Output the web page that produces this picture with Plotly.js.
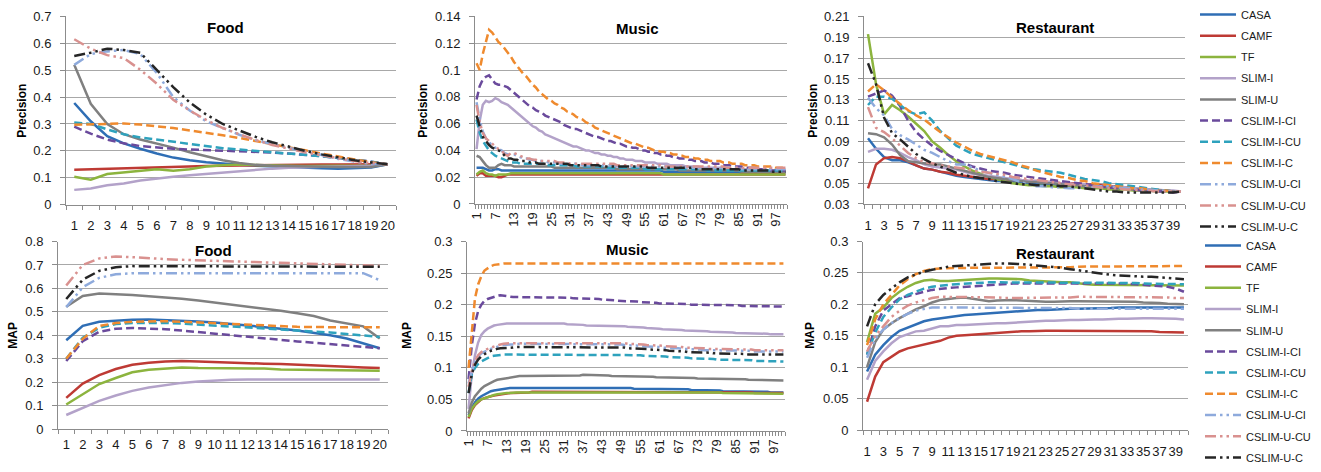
<!DOCTYPE html>
<html><head><meta charset="utf-8">
<script src="https://cdn.plot.ly/plotly-3.0.1.min.js"></script>
<style>html,body{margin:0;padding:0;background:#fff}#chart{width:1321px;height:472px}</style>
</head><body><div id="chart"></div>
<script>
const methods = ['CASA','CAMF','TF','SLIM-I','SLIM-U','CSLIM-I-CI','CSLIM-I-CU','CSLIM-I-C','CSLIM-U-CI','CSLIM-U-CU','CSLIM-U-C'];

// categories
const foodX = [1,2,3,4,5,6,7,8,9,10,11,12,13,14,15,16,17,18,19,20];
const restX = [1,2,3,4,5,6,7,8,9,10,11,12,13,14,15,16,17,18,19,20,21,22,23,24,25,26,27,28,29,30,31,32,33,34,35,36,37,38,39,40];
const musicX = [1,2,3,4,5,6,7,8,9,10,11,12,13,14,15,16,17,18,19,20,21,22,23,24,25,26,27,28,29,30,
31,32,33,34,35,36,37,38,39,40,41,42,43,44,45,46,47,48,49,50,51,52,53,54,55,56,57,58,59,60,
61,62,63,64,65,66,67,68,69,70,71,72,73,74,75,76,77,78,79,80,81,82,83,84,85,86,87,88,89,90,
91,92,93,94,95,96,97,98,99,100];
const foodTicks = [1,2,3,4,5,6,7,8,9,10,11,12,13,14,15,16,17,18,19,20];
const musicTicks = [1,7,13,19,25,31,37,43,49,55,61,67,73,79,85,91,97];
const restTicks = [1,3,5,7,9,11,13,15,17,19,21,23,25,27,29,31,33,35,37,39];

// Food - Precision
const fpCASA = [.378,.310,.255,.228,.208,.190,.175,.165,.158,.152,.148,.145,.142,.139,.137,.135,.134,.135,.138,.150];
const fpCAMF = [.130,.132,.134,.136,.138,.140,.141,.142,.144,.145,.146,.147,.148,.148,.149,.149,.149,.149,.149,.150];
const fpTF = [.104,.093,.114,.120,.128,.132,.126,.132,.142,.147,.149,.147,.146,.145,.144,.144,.144,.145,.146,.150];
const fpSlimI = [.055,.060,.072,.079,.090,.098,.104,.109,.114,.120,.126,.130,.134,.137,.140,.141,.142,.143,.145,.150];
const fpSlimU = [.520,.375,.300,.262,.242,.228,.212,.195,.180,.165,.155,.148,.145,.143,.142,.141,.140,.140,.140,.150];
const fpICI = [.290,.264,.242,.228,.218,.212,.208,.205,.203,.200,.198,.196,.194,.190,.186,.180,.174,.168,.160,.150];
const fpICU = [.306,.300,.280,.262,.250,.242,.234,.226,.218,.210,.205,.200,.196,.192,.187,.180,.174,.168,.160,.150];
const fpIC = [.297,.299,.302,.302,.298,.292,.285,.276,.268,.258,.248,.237,.226,.214,.202,.190,.178,.168,.158,.150];
const fpUCI = [.520,.560,.570,.575,.560,.490,.400,.350,.310,.285,.260,.240,.225,.210,.197,.185,.170,.160,.152,.150];
const fpUCU = [.615,.580,.556,.545,.502,.450,.390,.350,.315,.285,.262,.240,.222,.208,.195,.183,.172,.162,.155,.150];
const fpUC = [.553,.565,.580,.575,.565,.500,.437,.380,.335,.300,.275,.252,.232,.215,.200,.187,.175,.165,.157,.150];

// Music - Precision
const mpCASA = [.027,.027,.027,.026,.025,.025,.026,.026,.025,.025,
.025,.025,.025,.025,.025,.025,.025,.025,.025,.025,
.025,.025,.025,.025,.025,.025,.025,.025,.025,.025,
.025,.025,.025,.025,.025,.025,.025,.025,.025,.025,
.025,.025,.025,.025,.025,.025,.025,.025,.025,.025,
.025,.025,.025,.025,.025,.025,.025,.025,.025,.025,
.024,.024,.024,.024,.024,.024,.024,.024,.024,.024,
.024,.024,.024,.024,.024,.024,.024,.024,.024,.024,
.024,.024,.024,.024,.024,.023,.023,.023,.023,.023,
.023,.023,.023,.023,.023,.023,.023,.023,.023,.023];
const mpCAMF = [.021,.023,.023,.021,.021,.021,.021,.020,.020,.021,
.022,.022,.022,.022,.022,.022,.022,.022,.022,.022,
.022,.022,.022,.022,.022,.022,.022,.022,.022,.022,
.022,.022,.022,.022,.022,.022,.022,.022,.022,.022,
.022,.022,.022,.022,.022,.022,.022,.022,.022,.022,
.022,.022,.022,.022,.022,.022,.022,.022,.022,.022,
.022,.022,.022,.022,.022,.022,.022,.022,.022,.022,
.022,.022,.022,.022,.022,.022,.022,.022,.022,.022,
.022,.022,.022,.022,.022,.022,.022,.022,.022,.022,
.022,.022,.022,.022,.022,.022,.022,.022,.022,.022];
const mpTF = [.022,.024,.025,.023,.022,.022,.021,.022,.022,.022,
.022,.023,.023,.023,.023,.023,.023,.023,.023,.023,
.023,.023,.023,.023,.023,.023,.023,.023,.023,.023,
.023,.023,.023,.023,.023,.023,.023,.023,.023,.023,
.023,.023,.023,.023,.023,.023,.023,.023,.023,.023,
.023,.023,.023,.023,.023,.023,.023,.023,.023,.023,
.022,.022,.022,.022,.022,.022,.022,.022,.022,.022,
.022,.022,.022,.022,.022,.022,.022,.022,.022,.022,
.022,.022,.022,.022,.022,.022,.022,.022,.022,.022,
.022,.022,.022,.022,.022,.022,.022,.022,.022,.022];
const mpSlimI = [.041,.062,.074,.077,.076,.077,.079,.078,.076,.075,
.074,.072,.070,.068,.066,.064,.062,.060,.058,.057,
.055,.054,.052,.051,.050,.049,.048,.047,.046,.045,
.044,.043,.043,.042,.041,.040,.040,.039,.038,.038,
.037,.037,.036,.036,.035,.035,.034,.034,.033,.033,
.033,.032,.032,.032,.031,.031,.031,.031,.030,.030,
.030,.030,.029,.029,.029,.029,.029,.028,.028,.028,
.028,.028,.027,.027,.027,.027,.027,.027,.027,.027,
.026,.026,.026,.026,.026,.026,.026,.026,.026,.026,
.026,.026,.026,.025,.025,.025,.025,.025,.025,.025];
const mpSlimU = [.036,.035,.032,.029,.027,.027,.027,.029,.030,.029,
.029,.029,.028,.028,.028,.028,.028,.028,.028,.028,
.028,.028,.028,.028,.028,.027,.027,.027,.027,.027,
.027,.027,.027,.027,.027,.027,.027,.027,.027,.027,
.027,.027,.027,.027,.027,.026,.026,.026,.026,.026,
.026,.026,.026,.026,.026,.026,.026,.026,.026,.026,
.026,.026,.026,.026,.026,.025,.025,.025,.025,.025,
.025,.025,.025,.025,.025,.025,.025,.025,.025,.025,
.025,.025,.025,.025,.025,.024,.024,.024,.024,.024,
.024,.024,.024,.024,.024,.024,.024,.024,.024,.024];
const mpICI = [.078,.088,.093,.095,.096,.093,.090,.089,.089,.088,
.087,.085,.083,.081,.079,.077,.075,.073,.072,.070,
.069,.068,.066,.065,.064,.063,.062,.061,.059,.058,
.057,.056,.056,.055,.054,.053,.052,.051,.050,.050,
.049,.048,.047,.047,.046,.045,.045,.044,.043,.043,
.042,.042,.041,.040,.040,.039,.039,.038,.038,.037,
.037,.036,.036,.035,.035,.034,.034,.034,.033,.033,
.032,.032,.032,.031,.031,.031,.030,.030,.030,.029,
.029,.029,.028,.028,.028,.028,.027,.027,.027,.027,
.026,.026,.026,.026,.025,.025,.025,.025,.025,.025];
const mpICU = [.063,.053,.047,.043,.040,.038,.036,.035,.034,.033,
.032,.031,.031,.031,.030,.030,.030,.030,.030,.030,
.030,.030,.030,.029,.029,.029,.029,.029,.029,.029,
.029,.029,.028,.028,.028,.028,.028,.028,.028,.028,
.028,.028,.027,.027,.027,.027,.027,.027,.027,.027,
.027,.027,.027,.027,.026,.026,.026,.026,.026,.026,
.026,.026,.026,.026,.026,.026,.026,.026,.026,.026,
.026,.026,.026,.026,.025,.025,.025,.025,.025,.025,
.025,.025,.025,.025,.025,.025,.025,.025,.025,.025,
.025,.025,.025,.025,.025,.025,.025,.025,.025,.025];
const mpIC = [.105,.100,.112,.122,.130,.128,.124,.121,.119,.116,
.113,.110,.106,.103,.100,.097,.095,.092,.089,.087,
.084,.082,.080,.078,.077,.075,.074,.072,.071,.069,
.068,.067,.065,.064,.063,.061,.060,.059,.057,.056,
.055,.054,.053,.052,.051,.050,.049,.048,.047,.046,
.045,.045,.044,.043,.042,.042,.041,.040,.040,.039,
.039,.038,.038,.037,.037,.036,.036,.035,.035,.035,
.034,.034,.033,.033,.033,.032,.032,.032,.032,.031,
.031,.031,.030,.030,.030,.030,.029,.029,.029,.029,
.028,.028,.028,.028,.028,.028,.027,.027,.027,.027];
const mpUCI = [.076,.063,.054,.049,.046,.044,.042,.041,.040,.038,
.037,.037,.037,.036,.035,.034,.034,.033,.033,.032,
.032,.032,.032,.031,.031,.031,.031,.030,.030,.030,
.030,.030,.030,.030,.029,.029,.029,.029,.029,.029,
.029,.029,.029,.029,.029,.028,.028,.028,.028,.028,
.028,.028,.028,.028,.028,.028,.028,.028,.028,.028,
.028,.028,.028,.028,.028,.027,.027,.027,.027,.027,
.027,.027,.027,.027,.027,.027,.027,.027,.027,.027,
.027,.027,.027,.027,.027,.026,.026,.026,.026,.026,
.026,.026,.026,.026,.026,.026,.026,.026,.026,.026];
const mpUCU = [.074,.061,.053,.049,.047,.045,.043,.041,.040,.037,
.036,.038,.038,.037,.036,.035,.034,.034,.033,.033,
.032,.032,.032,.032,.032,.032,.031,.031,.031,.031,
.030,.030,.030,.030,.030,.030,.030,.030,.030,.030,
.030,.030,.030,.030,.030,.029,.029,.029,.029,.029,
.029,.029,.029,.029,.029,.029,.029,.029,.029,.029,
.028,.028,.028,.028,.028,.028,.028,.028,.028,.028,
.028,.028,.028,.028,.028,.028,.028,.028,.028,.028,
.027,.027,.027,.027,.027,.027,.027,.027,.027,.027,
.027,.027,.027,.027,.027,.027,.027,.027,.027,.027];
const mpUC = [.066,.058,.050,.047,.044,.042,.041,.040,.039,.036,
.034,.034,.033,.033,.032,.032,.032,.031,.031,.031,
.030,.030,.030,.030,.030,.030,.030,.030,.030,.030,
.029,.029,.029,.029,.029,.029,.029,.029,.029,.029,
.028,.028,.028,.028,.028,.028,.028,.028,.028,.028,
.028,.028,.028,.028,.028,.027,.027,.027,.027,.027,
.027,.027,.027,.027,.027,.027,.027,.027,.027,.027,
.026,.026,.026,.026,.026,.026,.026,.026,.026,.026,
.026,.026,.026,.026,.026,.025,.025,.025,.025,.025,
.025,.025,.025,.025,.025,.024,.024,.024,.024,.024];

// Restaurant - Precision
const rpCASA = [.093,.083,.075,.072,.072,.070,.067,.064,.063,.061,.059,.057,.056,.055,.054,.053,.052,.052,.051,.051,.050,.050,.049,.049,.048,.048,.047,.047,.046,.046,.045,.045,.045,.044,.044,.043,.043,.043,.042,.042];
const rpCAMF = [.045,.068,.074,.075,.074,.071,.067,.064,.063,.061,.060,.058,.057,.056,.055,.054,.054,.053,.053,.053,.052,.052,.051,.051,.050,.050,.050,.049,.049,.048,.047,.047,.046,.045,.045,.044,.043,.043,.042,.042];
const rpTF = [.193,.145,.116,.125,.120,.114,.107,.100,.090,.084,.077,.071,.066,.062,.059,.056,.054,.052,.050,.049,.048,.048,.047,.047,.046,.046,.046,.045,.045,.045,.044,.044,.044,.043,.043,.043,.042,.042,.042,.042];
const rpSlimI = [.080,.083,.083,.082,.079,.075,.072,.068,.066,.065,.064,.063,.061,.059,.058,.057,.056,.055,.054,.053,.052,.052,.051,.051,.050,.050,.049,.049,.048,.047,.047,.046,.046,.045,.045,.044,.044,.043,.043,.042];
const rpSlimU = [.098,.097,.094,.087,.077,.071,.070,.069,.068,.068,.066,.064,.062,.060,.058,.056,.055,.054,.053,.052,.051,.051,.050,.050,.049,.048,.048,.047,.047,.046,.046,.045,.045,.044,.044,.043,.043,.043,.042,.042];
const rpICI = [.133,.136,.139,.134,.124,.110,.099,.092,.086,.081,.077,.073,.069,.066,.064,.062,.061,.060,.058,.057,.056,.055,.054,.053,.052,.051,.050,.049,.048,.047,.046,.045,.045,.044,.043,.043,.042,.042,.041,.042];
const rpICU = [.125,.133,.133,.131,.125,.119,.116,.118,.110,.100,.093,.086,.082,.078,.076,.074,.072,.070,.068,.066,.064,.063,.062,.061,.060,.058,.056,.054,.053,.052,.050,.049,.048,.047,.046,.045,.044,.043,.042,.042];
const rpIC = [.138,.145,.139,.132,.126,.120,.115,.111,.105,.099,.094,.089,.085,.081,.078,.076,.074,.072,.070,.067,.065,.062,.060,.058,.056,.055,.053,.052,.050,.049,.048,.047,.046,.045,.045,.044,.043,.043,.042,.042];
const rpUCI = [.132,.122,.115,.102,.096,.092,.087,.082,.079,.075,.071,.068,.068,.065,.062,.060,.058,.056,.054,.051,.049,.047,.047,.046,.046,.045,.045,.046,.046,.047,.047,.046,.045,.045,.044,.044,.043,.043,.042,.042];
const rpUCU = [.123,.103,.099,.093,.086,.079,.074,.070,.069,.067,.066,.065,.064,.062,.061,.060,.059,.058,.056,.055,.054,.053,.052,.051,.050,.049,.048,.048,.047,.046,.045,.045,.044,.044,.043,.043,.042,.042,.042,.042];
const rpUC = [.165,.145,.113,.098,.092,.085,.078,.073,.069,.066,.063,.060,.058,.056,.055,.054,.052,.051,.050,.049,.049,.048,.048,.048,.047,.047,.046,.045,.044,.043,.042,.042,.041,.041,.041,.041,.041,.041,.041,.042];

// Food - MAP
const fmCASA = [.379,.440,.458,.463,.466,.467,.465,.462,.459,.455,.449,.442,.435,.428,.420,.410,.400,.386,.365,.345];
const fmCAMF = [.133,.194,.230,.256,.274,.283,.288,.290,.288,.285,.283,.281,.279,.277,.275,.273,.270,.266,.263,.260];
const fmTF = [.105,.150,.192,.218,.242,.253,.259,.263,.260,.260,.260,.260,.258,.254,.253,.253,.252,.251,.250,.249];
const fmSlimI = [.060,.090,.120,.143,.163,.177,.188,.197,.203,.208,.210,.211,.211,.211,.211,.211,.211,.211,.211,.211];
const fmSlimU = [.522,.568,.578,.576,.572,.567,.562,.556,.548,.540,.531,.522,.513,.505,.494,.482,.463,.450,.438,.386];
const fmICI = [.290,.375,.415,.428,.431,.430,.426,.420,.413,.406,.400,.393,.386,.380,.374,.368,.362,.356,.351,.345];
const fmICU = [.300,.390,.432,.448,.452,.454,.453,.450,.446,.442,.438,.433,.428,.424,.420,.416,.412,.405,.398,.393];
const fmIC = [.300,.385,.440,.452,.458,.460,.460,.458,.455,.452,.448,.444,.440,.438,.436,.435,.434,.434,.434,.434];
const fmUCI = [.520,.605,.645,.660,.665,.665,.665,.665,.665,.665,.665,.665,.665,.665,.665,.665,.665,.665,.665,.635];
const fmUCU = [.612,.700,.728,.736,.733,.728,.725,.722,.720,.718,.715,.712,.710,.708,.705,.703,.701,.700,.698,.696];
const fmUC = [.555,.637,.675,.690,.695,.695,.695,.695,.695,.695,.695,.695,.695,.695,.695,.695,.695,.695,.695,.692];

// Music - MAP
const mmCASA = [.025,.037,.045,.051,.055,.058,.061,.063,.064,.065,
.066,.067,.068,.068,.068,.068,.068,.069,.069,.069,
.069,.069,.069,.069,.069,.069,.069,.069,.069,.069,
.069,.069,.069,.069,.068,.068,.068,.068,.068,.068,
.068,.068,.068,.068,.068,.068,.068,.068,.068,.068,
.068,.068,.067,.067,.067,.067,.067,.067,.067,.067,
.066,.066,.066,.066,.066,.066,.066,.066,.066,.066,
.065,.065,.065,.065,.065,.064,.064,.064,.064,.064,
.063,.063,.063,.063,.063,.063,.063,.063,.063,.063,
.062,.062,.062,.062,.062,.061,.061,.061,.061,.061];
const mmCAMF = [.020,.033,.041,.046,.050,.052,.054,.055,.056,.057,
.058,.059,.060,.060,.060,.060,.061,.061,.061,.061,
.062,.062,.062,.062,.062,.062,.062,.062,.062,.062,
.062,.062,.062,.062,.062,.062,.062,.062,.062,.062,
.062,.062,.062,.062,.062,.062,.062,.062,.062,.062,
.062,.062,.062,.062,.062,.062,.062,.062,.062,.062,
.062,.062,.062,.062,.062,.062,.062,.062,.062,.062,
.061,.061,.061,.061,.061,.061,.061,.061,.061,.061,
.061,.061,.061,.061,.061,.061,.061,.061,.061,.061,
.060,.060,.060,.060,.060,.060,.060,.060,.060,.060];
const mmTF = [.022,.035,.042,.047,.050,.052,.054,.056,.057,.058,
.059,.060,.060,.060,.061,.061,.061,.061,.061,.061,
.062,.062,.062,.062,.062,.062,.062,.062,.062,.062,
.062,.062,.062,.062,.062,.062,.062,.062,.062,.062,
.061,.061,.061,.061,.061,.061,.061,.061,.061,.061,
.061,.061,.061,.061,.061,.061,.061,.061,.061,.061,
.061,.061,.061,.061,.061,.061,.061,.061,.061,.061,
.061,.061,.061,.061,.061,.061,.061,.061,.061,.061,
.060,.060,.060,.060,.060,.060,.060,.060,.060,.060,
.060,.060,.060,.060,.059,.059,.059,.059,.059,.059];
const mmSlimI = [.035,.090,.120,.140,.152,.158,.162,.165,.167,.168,
.169,.169,.170,.170,.170,.170,.171,.171,.171,.171,
.171,.171,.171,.171,.171,.171,.171,.171,.170,.170,
.170,.169,.169,.169,.168,.168,.168,.167,.167,.167,
.167,.167,.167,.166,.166,.166,.166,.166,.166,.166,
.165,.165,.165,.164,.164,.164,.163,.163,.162,.162,
.162,.161,.161,.161,.160,.160,.160,.160,.159,.159,
.159,.159,.158,.158,.158,.158,.157,.157,.157,.157,
.156,.156,.156,.156,.155,.155,.155,.155,.155,.155,
.154,.154,.154,.154,.154,.153,.153,.153,.153,.153];
const mmSlimU = [.028,.045,.055,.062,.067,.071,.074,.077,.079,.081,
.082,.083,.084,.085,.086,.087,.087,.087,.087,.087,
.088,.088,.088,.088,.088,.088,.088,.088,.088,.088,
.087,.087,.088,.088,.088,.088,.089,.089,.088,.088,
.088,.088,.088,.088,.088,.087,.087,.087,.087,.087,
.087,.087,.087,.087,.087,.086,.086,.086,.086,.085,
.085,.085,.085,.085,.085,.084,.084,.084,.084,.084,
.084,.084,.083,.083,.083,.083,.083,.083,.083,.083,
.082,.082,.082,.082,.082,.082,.082,.082,.081,.081,
.081,.081,.081,.081,.081,.081,.080,.080,.080,.080];
const mmICI = [.082,.135,.170,.190,.200,.206,.209,.211,.213,.214,
.215,.214,.213,.212,.212,.212,.212,.212,.212,.212,
.212,.212,.212,.212,.212,.211,.211,.211,.211,.211,
.211,.211,.211,.210,.210,.210,.210,.210,.210,.210,
.209,.209,.208,.208,.207,.207,.207,.206,.206,.206,
.205,.205,.205,.205,.204,.204,.204,.203,.203,.203,
.202,.202,.202,.202,.202,.201,.201,.201,.201,.201,
.200,.200,.200,.200,.200,.200,.200,.200,.200,.199,
.199,.199,.199,.199,.199,.199,.198,.198,.198,.198,
.198,.198,.198,.197,.197,.197,.197,.197,.197,.197];
const mmICU = [.060,.090,.100,.106,.110,.113,.116,.118,.119,.120,
.121,.121,.121,.121,.121,.121,.121,.121,.121,.121,
.121,.121,.121,.121,.121,.121,.121,.121,.121,.121,
.121,.121,.121,.121,.121,.121,.121,.121,.121,.121,
.121,.121,.121,.121,.121,.120,.120,.120,.120,.120,
.120,.120,.120,.120,.120,.119,.119,.119,.119,.119,
.118,.118,.118,.117,.117,.117,.116,.116,.116,.116,
.115,.115,.115,.115,.114,.114,.114,.114,.113,.113,
.113,.113,.113,.113,.113,.112,.112,.112,.112,.112,
.111,.111,.111,.111,.111,.110,.110,.110,.110,.110];
const mmIC = [.100,.150,.210,.232,.245,.254,.258,.261,.263,.264,
.265,.265,.265,.265,.265,.265,.265,.265,.265,.265,
.265,.265,.265,.265,.265,.265,.265,.265,.265,.265,
.265,.265,.265,.265,.265,.265,.265,.265,.265,.265,
.265,.265,.265,.265,.265,.265,.265,.265,.265,.265,
.265,.265,.265,.265,.265,.265,.265,.265,.265,.265,
.265,.265,.265,.265,.265,.265,.265,.265,.265,.265,
.265,.265,.265,.265,.265,.265,.265,.265,.265,.265,
.265,.265,.265,.265,.265,.265,.265,.265,.265,.265,
.265,.265,.265,.265,.265,.265,.265,.265,.265,.265];
const mmUCI = [.075,.095,.108,.118,.123,.126,.128,.130,.132,.134,
.135,.136,.137,.137,.137,.138,.138,.138,.138,.138,
.138,.138,.138,.138,.138,.138,.138,.138,.138,.138,
.138,.138,.138,.138,.138,.138,.138,.138,.138,.138,
.138,.138,.138,.137,.137,.137,.137,.137,.137,.136,
.136,.136,.135,.135,.135,.134,.134,.134,.133,.133,
.133,.132,.132,.132,.131,.131,.131,.130,.130,.130,
.129,.129,.129,.129,.128,.128,.128,.128,.128,.127,
.127,.127,.127,.127,.127,.127,.127,.127,.127,.126,
.126,.126,.126,.126,.126,.126,.126,.126,.126,.126];
const mmUCU = [.070,.095,.110,.120,.125,.128,.130,.132,.134,.136,
.137,.138,.139,.139,.139,.139,.139,.139,.140,.140,
.140,.140,.140,.140,.140,.140,.140,.140,.140,.140,
.140,.140,.140,.140,.140,.140,.140,.140,.140,.140,
.140,.140,.140,.140,.139,.139,.139,.139,.139,.139,
.138,.138,.138,.137,.137,.137,.136,.136,.136,.135,
.135,.135,.134,.134,.134,.133,.133,.133,.132,.132,
.132,.131,.131,.131,.131,.130,.130,.130,.130,.130,
.129,.129,.129,.129,.129,.129,.129,.129,.129,.129,
.128,.128,.128,.128,.128,.128,.128,.128,.128,.128];
const mmUC = [.060,.090,.105,.113,.118,.122,.125,.127,.129,.130,
.131,.131,.132,.132,.132,.133,.133,.133,.133,.133,
.133,.133,.133,.133,.133,.133,.133,.133,.133,.133,
.133,.133,.133,.133,.133,.133,.133,.133,.133,.133,
.133,.133,.133,.133,.133,.133,.132,.132,.132,.132,
.131,.131,.131,.130,.130,.130,.130,.129,.129,.129,
.128,.128,.128,.127,.127,.127,.126,.126,.126,.125,
.125,.125,.125,.124,.124,.124,.124,.123,.123,.123,
.123,.123,.122,.122,.122,.122,.122,.122,.121,.121,
.121,.121,.121,.121,.121,.121,.121,.121,.121,.121];

// Restaurant - MAP
const rmCASA = [.093,.120,.135,.148,.158,.163,.167,.173,.176,.178,.180,.182,.183,.184,.185,.186,.187,.188,.189,.190,.190,.191,.191,.192,.192,.193,.193,.193,.194,.194,.194,.195,.195,.195,.195,.195,.195,.195,.195,.195];
const rmCAMF = [.045,.085,.108,.117,.125,.130,.133,.135,.138,.142,.147,.150,.151,.152,.153,.154,.155,.155,.156,.157,.157,.158,.158,.158,.158,.158,.158,.158,.158,.158,.158,.158,.158,.157,.157,.157,.156,.156,.155,.155];
const rmTF = [.140,.185,.195,.210,.220,.228,.234,.238,.239,.237,.237,.238,.238,.239,.240,.241,.241,.241,.241,.240,.238,.237,.236,.235,.235,.235,.233,.232,.231,.231,.231,.231,.231,.231,.230,.230,.230,.230,.230,.230];
const rmSlimI = [.080,.110,.125,.138,.148,.153,.157,.158,.162,.165,.165,.167,.167,.168,.169,.169,.170,.170,.171,.171,.172,.173,.174,.174,.175,.175,.175,.176,.176,.176,.177,.177,.177,.178,.178,.178,.178,.178,.177,.176];
const rmSlimU = [.100,.140,.160,.170,.178,.185,.192,.197,.203,.207,.209,.210,.211,.209,.206,.205,.206,.207,.207,.206,.205,.204,.204,.204,.205,.205,.205,.205,.205,.205,.205,.205,.204,.204,.203,.203,.202,.201,.200,.200];
const rmICI = [.120,.165,.190,.200,.210,.213,.217,.220,.223,.225,.226,.227,.228,.229,.230,.231,.232,.232,.233,.233,.233,.233,.233,.234,.234,.234,.234,.234,.234,.234,.234,.233,.233,.232,.231,.230,.229,.228,.225,.220];
const rmICU = [.120,.155,.180,.195,.208,.215,.220,.225,.228,.230,.231,.232,.233,.234,.234,.235,.235,.235,.235,.235,.235,.235,.235,.235,.235,.235,.235,.235,.235,.235,.235,.234,.234,.234,.233,.233,.233,.232,.232,.232];
const rmIC = [.135,.176,.200,.215,.230,.240,.248,.253,.256,.257,.258,.258,.258,.258,.258,.258,.258,.258,.258,.258,.258,.258,.259,.259,.259,.259,.260,.260,.260,.260,.260,.260,.260,.260,.261,.261,.261,.261,.261,.261];
const rmUCI = [.115,.145,.160,.170,.178,.185,.190,.193,.195,.195,.195,.195,.195,.195,.195,.195,.195,.195,.195,.195,.195,.195,.194,.194,.194,.194,.193,.193,.193,.193,.192,.192,.192,.192,.192,.192,.192,.193,.193,.193];
const rmUCU = [.125,.150,.165,.180,.190,.198,.203,.207,.210,.212,.212,.212,.212,.212,.211,.211,.211,.210,.210,.210,.210,.211,.211,.211,.211,.211,.212,.212,.212,.212,.212,.212,.212,.212,.212,.212,.211,.211,.210,.210];
const rmUC = [.165,.200,.215,.225,.235,.243,.248,.252,.255,.258,.260,.261,.262,.263,.264,.265,.265,.265,.265,.264,.263,.262,.260,.259,.258,.256,.254,.252,.250,.248,.247,.246,.245,.245,.244,.244,.243,.243,.242,.240];

// ---------- assembly ----------
const colors = ['#2f6eb5','#be3a34','#8cb43e','#b3a2c9','#808080','#6a4a9c','#2ea2bd','#ef8a2e','#8eaadc','#d9918f','#262626'];
const DASH = '8px,4px', DDOT = '11px,4px,2.5px,4px,2.5px,4px';
const dashes = ['solid','solid','solid','solid','solid',DASH,DASH,DASH,DDOT,DDOT,DDOT];

const panels = [
  {x: foodX,  s: [fpCASA,fpCAMF,fpTF,fpSlimI,fpSlimU,fpICI,fpICU,fpIC,fpUCI,fpUCU,fpUC]},
  {x: musicX, s: [mpCASA,mpCAMF,mpTF,mpSlimI,mpSlimU,mpICI,mpICU,mpIC,mpUCI,mpUCU,mpUC]},
  {x: restX,  s: [rpCASA,rpCAMF,rpTF,rpSlimI,rpSlimU,rpICI,rpICU,rpIC,rpUCI,rpUCU,rpUC], legend: 'legend'},
  {x: foodX,  s: [fmCASA,fmCAMF,fmTF,fmSlimI,fmSlimU,fmICI,fmICU,fmIC,fmUCI,fmUCU,fmUC]},
  {x: musicX, s: [mmCASA,mmCAMF,mmTF,mmSlimI,mmSlimU,mmICI,mmICU,mmIC,mmUCI,mmUCU,mmUC]},
  {x: restX,  s: [rmCASA,rmCAMF,rmTF,rmSlimI,rmSlimU,rmICI,rmICU,rmIC,rmUCI,rmUCU,rmUC], legend: 'legend2'}
];

const traces = [];
panels.forEach((p, k) => {
  const sfx = k === 0 ? '' : String(k + 1);
  p.s.forEach((ys, i) => {
    traces.push({
      type: 'scatter', mode: 'lines', x: p.x, y: ys, name: methods[i],
      xaxis: 'x' + sfx, yaxis: 'y' + sfx,
      line: {color: colors[i], width: 2.5, dash: dashes[i]},
      showlegend: !!p.legend, legend: p.legend || 'legend',
      legendgroup: 'p' + k + '_' + i, hoverinfo: 'skip'
    });
  });
});

const W = 1321, H = 472;
const FONT = 'Liberation Sans, Arial, sans-serif';
const AX = '#8c8c8c', GRID = '#a8a8a8', TXT = '#1a1a1a';
function px(a, b) { return [a / W, b / W]; }
function py(top, bot) { return [1 - bot / H, 1 - top / H]; }

function xa(dom, n, ticks, angle, standoff) {
  return {domain: dom, range: [0.5, n + 0.5], type: 'linear', tickmode: 'array',
    tickvals: ticks, ticktext: ticks.map(String), ticks: '', tickangle: angle,
    ticklabelstandoff: standoff,
    showline: true, linecolor: AX, linewidth: 1, showgrid: false, zeroline: false,
    minor: {ticks: 'outside', ticklen: 4, tickcolor: AX, tickwidth: 1, tick0: 0.5, dtick: 1, showgrid: false},
    tickfont: {family: FONT, size: 13, color: TXT}, fixedrange: true};
}
function ya(dom, lo, hi, dt) {
  return {domain: dom, range: [lo, hi], tick0: lo, dtick: dt, tickmode: 'linear',
    showgrid: true, gridcolor: GRID, gridwidth: 1, zeroline: false,
    showline: true, linecolor: AX, linewidth: 1, ticks: 'outside', ticklen: 5, tickcolor: AX,
    ticklabelstandoff: 6, tickfont: {family: FONT, size: 13, color: TXT}, fixedrange: true};
}

const layout = {
  width: W, height: H, margin: {l: 0, r: 0, t: 0, b: 0},
  paper_bgcolor: '#fff', plot_bgcolor: '#fff',
  font: {family: FONT, color: TXT},
  xaxis:  Object.assign(xa(px(66, 396), 20, foodTicks, 0, 9), {anchor: 'y'}),
  yaxis:  Object.assign(ya(py(15, 210.7), 0, 0.7, 0.1), {anchor: 'x'}),
  xaxis2: Object.assign(xa(px(475, 787), 100, musicTicks, -90, 2), {anchor: 'y2'}),
  yaxis2: Object.assign(ya(py(15, 210), 0, 0.14, 0.02), {anchor: 'x2'}),
  xaxis3: Object.assign(xa(px(864, 1185), 40, restTicks, 0, 9), {anchor: 'y3'}),
  yaxis3: Object.assign(ya(py(15, 210), 0.03, 0.21, 0.02), {anchor: 'x3'}),
  xaxis4: Object.assign(xa(px(58, 388), 20, foodTicks, 0, 3), {anchor: 'y4'}),
  yaxis4: Object.assign(ya(py(249, 444), 0, 0.8, 0.1), {anchor: 'x4'}),
  xaxis5: Object.assign(xa(px(467, 785), 100, musicTicks, -90, 2), {anchor: 'y5'}),
  yaxis5: Object.assign(ya(py(249, 446), 0, 0.3, 0.05), {anchor: 'x5'}),
  xaxis6: Object.assign(xa(px(863, 1188), 40, restTicks, 0, 9), {anchor: 'y6'}),
  yaxis6: Object.assign(ya(py(249, 445), 0, 0.3, 0.05), {anchor: 'x6'}),
  legend:  {x: 1195 / W, y: 1 + 2 / H, xanchor: 'left', yanchor: 'top', bgcolor: 'rgba(0,0,0,0)',
            font: {family: FONT, size: 11, color: TXT}, traceorder: 'grouped', tracegroupgap: 2.2, itemwidth: 36},
  legend2: {x: 1200 / W, y: 1 - 238 / H, xanchor: 'left', yanchor: 'top', bgcolor: 'rgba(0,0,0,0)',
            font: {family: FONT, size: 11, color: TXT}, traceorder: 'grouped', tracegroupgap: 2.2, itemwidth: 36},
  annotations: []
};

function ann(text, x, y, size, angle) {
  layout.annotations.push({text: '<b>' + text + '</b>', x: x / W, y: 1 - y / H, xref: 'paper', yref: 'paper',
    xanchor: 'center', yanchor: 'middle', showarrow: false, textangle: angle || 0,
    font: {family: FONT, size: size, color: '#000'}});
}
ann('Food', 225, 27, 15); ann('Music', 637, 28, 15); ann('Restaurant', 1055, 27, 15);
ann('Food', 213, 258, 15); ann('Music', 627, 257, 15); ann('Restaurant', 1055, 261, 15);
ann('Precision', 22, 113, 12, -90); ann('Precision', 423, 113, 12, -90); ann('Precision', 813, 113, 12, -90);
ann('MAP', 13, 347, 12, -90); ann('MAP', 407, 347, 12, -90); ann('MAP', 810, 347, 12, -90);

Plotly.newPlot('chart', traces, layout, {staticPlot: true, displayModeBar: false});
</script></body></html>
